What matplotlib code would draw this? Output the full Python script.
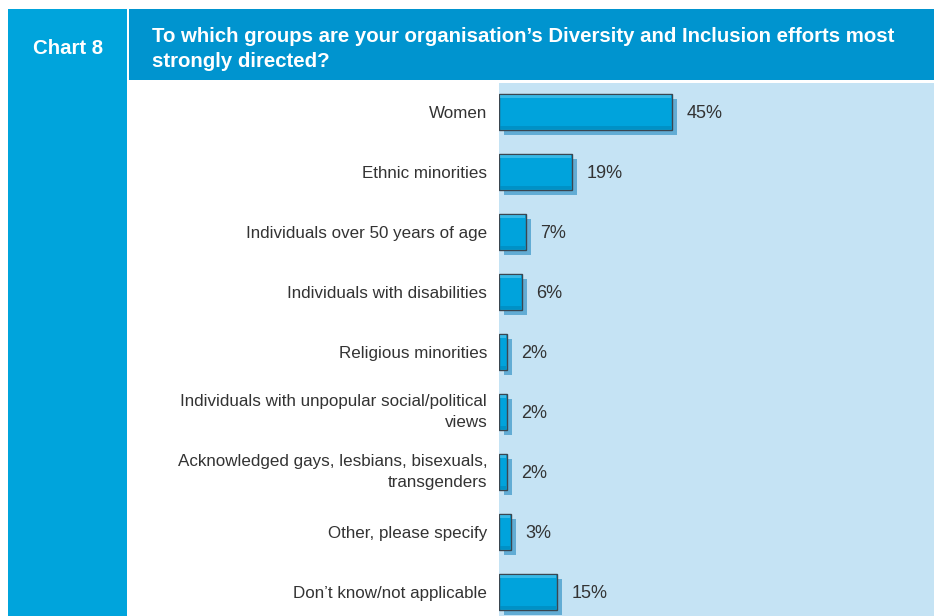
import matplotlib.pyplot as plt
from matplotlib.patches import Rectangle
import matplotlib.transforms as mtransforms

W, H = 934, 616

categories = [
    "Women",
    "Ethnic minorities",
    "Individuals over 50 years of age",
    "Individuals with disabilities",
    "Religious minorities",
    "Individuals with unpopular social/political\nviews",
    "Acknowledged gays, lesbians, bisexuals,\ntransgenders",
    "Other, please specify",
    "Don\u2019t know/not applicable",
]
values = [45, 19, 7, 6, 2, 2, 2, 3, 15]

title = "To which groups are your organisation\u2019s Diversity and Inclusion efforts most\nstrongly directed?"
chart_label = "Chart 8"

band_blue = "#00a4dc"
header_blue = "#0094cf"
panel_blue = "#c5e3f4"
bar_blue = "#00a3dc"
shadow_blue = "#62acd4"
text_grey = "#333333"

plt.rcParams["font.family"] = ["Liberation Sans", "DejaVu Sans"]

fig = plt.figure(figsize=(W / 100, H / 100), dpi=100)
fig.patch.set_facecolor("white")


def px_rect(x0, y0, x1, y1):
    # pixel box (top-left origin) -> figure fraction rect
    return [x0 / W, 1 - y1 / H, (x1 - x0) / W, (y1 - y0) / H]


# background blocks
bg = fig.add_axes([0, 0, 1, 1])
bg.set_xlim(0, W)
bg.set_ylim(H, 0)
bg.axis("off")
bg.add_patch(Rectangle((8, 9), 119, H - 9, color=band_blue, lw=0))
bg.add_patch(Rectangle((129, 9), W - 129, 71, color=header_blue, lw=0))
bg.add_patch(Rectangle((499, 83), W - 499, H - 83, color=panel_blue, lw=0))
bg.text(68, 48, chart_label, color="white", fontsize=14.7, fontweight="bold",
        ha="center", va="center")
bg.text(152, 49, title, color="white", fontsize=14.7, fontweight="bold",
        ha="left", va="center", linespacing=1.42)

# bar area: x scale 3.84 px per percent, rows 60 px apart starting at y=112
ax = fig.add_axes(px_rect(499, 83, W, H))
ax.set_xlim(0, (W - 499) / 3.84)
ax.set_ylim((H - 112) / 60, (83 - 112) / 60)
ax.axis("off")
ax.patch.set_alpha(0)

ypos = list(range(len(values)))
bh = 36 / 60

shadow = mtransforms.offset_copy(ax.transData, fig=fig, x=5, y=-5, units="dots")
ax.barh(ypos, values, height=bh, color=shadow_blue, lw=0, transform=shadow, zorder=1)
ax.barh(ypos, values, height=bh, color=bar_blue, edgecolor="#3a4650", lw=1.0, zorder=2)

# subtle bevel: light strip along the top, darker strip along the bottom
for y, v in zip(ypos, values):
    ax.add_patch(Rectangle((0.2, y - bh / 2 + 0.02), v - 0.4, bh * 0.08,
                           color="#5cc8f0", alpha=0.6, lw=0, zorder=3))
    ax.add_patch(Rectangle((0.2, y + bh / 2 - 0.02 - bh * 0.08), v - 0.4, bh * 0.08,
                           color="#0085b8", alpha=0.6, lw=0, zorder=3))
    ax.annotate(f"{v}%", (v, y), xytext=(10.5, 0), textcoords="offset points",
                ha="left", va="center_baseline", fontsize=13, color=text_grey)

# category labels to the left of the panel
for y, c in zip(ypos, categories):
    va = "center" if "\n" in c else "center_baseline"
    ax.annotate(c, (0, y), xytext=(-8.5, 0), textcoords="offset points",
                ha="right", va=va, fontsize=12.25, color=text_grey,
                multialignment="right", linespacing=1.5, annotation_clip=False)

fig.savefig("out.png", dpi=100)
